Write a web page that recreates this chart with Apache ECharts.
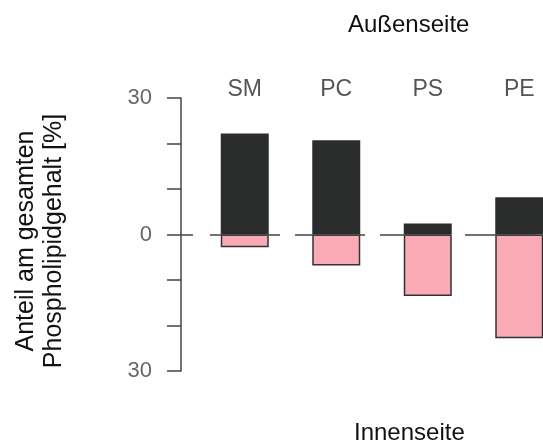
<!DOCTYPE html>
<html><head><meta charset="utf-8">
<script src="https://cdn.jsdelivr.net/npm/echarts@6/dist/echarts.min.js"></script>
<style>html,body{margin:0;padding:0;background:#fff}#c{width:543px;height:443px}</style>
</head><body><div id="c"></div>
<script>
const categories = ['SM', 'PC', 'PS', 'PE'];
const outerValues = [22.2, 20.7, 2.4, 8.2];
const innerValues = [-2.8, -6.8, -13.5, -22.8];
const yTickLabels = { '-30': '30', '0': '0', '30': '30' };
const outerTitle = 'Außenseite';
const innerTitle = 'Innenseite';
const yTitle = 'Anteil am gesamten\nPhospholipidgehalt [%]';

const chart = echarts.init(document.getElementById('c'), null, { renderer: 'canvas' });
const FONT = 'Liberation Sans, Arial, sans-serif';
chart.setOption({
  animation: false,
  backgroundColor: '#fff',
  title: [
    { text: outerTitle, left: 343, top: 8, textStyle: { fontFamily: FONT, fontSize: 24, fontWeight: 'normal', color: '#111' } },
    { text: innerTitle, left: 349, top: 416, textStyle: { fontFamily: FONT, fontSize: 24, fontWeight: 'normal', color: '#111' } }
  ],
  graphic: [{
    type: 'text', x: 40, y: 241, rotation: Math.PI / 2,
    style: { text: yTitle, font: '25px ' + FONT, fill: '#111', align: 'center', verticalAlign: 'middle', lineHeight: 28 }
  }],
  grid: { left: 199, right: -22, top: 98, bottom: 72, outerBoundsMode: 'none', containLabel: false },
  xAxis: {
    type: 'category', data: categories, position: 'top',
    axisLine: { show: false }, axisTick: { show: false },
    axisLabel: { margin: -3, fontFamily: FONT, fontSize: 23, color: '#555' }
  },
  yAxis: [{
    type: 'value', min: -30, max: 30, interval: 10, offset: 18,
    splitLine: { show: false },
    axisLine: { show: true, lineStyle: { color: '#444', width: 1.5 } },
    axisTick: { show: true, length: 14, lineStyle: { color: '#444', width: 1.5 } },
    axisLabel: { margin: 29, fontFamily: FONT, fontSize: 22, color: '#666',
      formatter: v => (yTickLabels[String(v)] !== undefined ? yTickLabels[String(v)] : '') }
  }, {
    type: 'value', min: -30, max: 30, interval: 10, offset: 18, position: 'left',
    splitLine: { show: false }, axisLine: { show: false }, axisLabel: { show: false },
    axisTick: { show: true, inside: true, length: 12, customValues: [0], lineStyle: { color: '#444', width: 1.5 } }
  }],
  series: [
    { type: 'line', data: [], z: 1, silent: true,
      markLine: { silent: true, symbol: 'none', label: { show: false },
        lineStyle: { color: '#444', width: 1.5, type: [70, 15], dashOffset: 74, opacity: 1 },
        data: [{ yAxis: 0 }] } },
    { type: 'bar', name: 'outer', stack: 'a', data: outerValues, barWidth: 48, z: 3,
      itemStyle: { color: '#2b2d2d' } },
    { type: 'bar', name: 'inner', stack: 'a', data: innerValues, barWidth: 48, z: 3,
      itemStyle: { color: '#f9aab4', borderColor: '#333', borderWidth: 1.5 } }
  ]
});
</script></body></html>
